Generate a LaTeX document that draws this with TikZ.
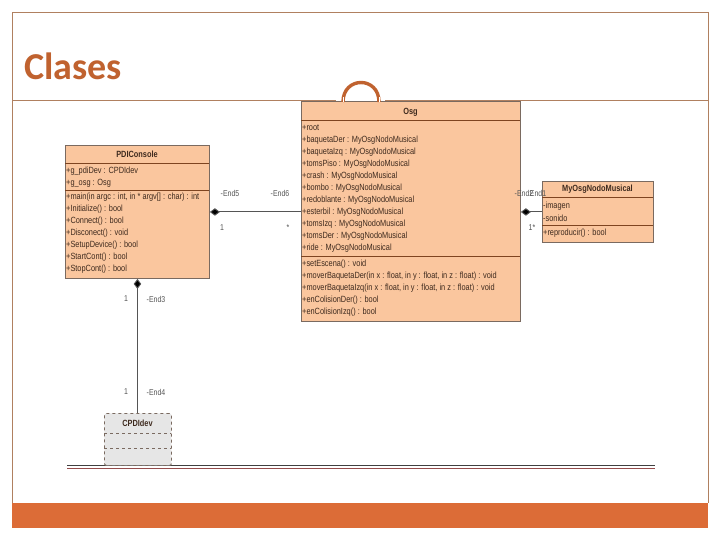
\documentclass[tikz,border=0pt]{standalone}
\usepackage{fontspec}
\usepackage{graphicx}
\setmainfont{Liberation Sans}
\newfontfamily\titlefont{Carlito}
\usetikzlibrary{arrows.meta}
\definecolor{framecol}{HTML}{B08060}
\definecolor{barcol}{HTML}{DC6C37}
\definecolor{titlecol}{HTML}{C0622F}
\definecolor{classfill}{HTML}{FAC69E}
\definecolor{boxborder}{HTML}{7A6A60}
\definecolor{sepcol}{HTML}{7E4420}
\definecolor{txtcol}{HTML}{3E2A1E}
\definecolor{lblcol}{HTML}{555555}
\definecolor{ifill}{HTML}{E6E6E6}
\definecolor{linecol}{HTML}{555555}
\newcommand\narrowtxt[1]{\scalebox{0.82}[1]{#1}}
\tikzset{
  classbox/.style={draw=boxborder, fill=classfill, line width=0.9pt, anchor=north west, inner sep=0pt},
  ifacebox/.style={draw=boxborder, fill=ifill, dashed, line width=0.9pt, anchor=north west, inner sep=0pt, rounded corners=2pt},
  sepline/.style={draw=sepcol, line width=1pt},
  dsepline/.style={draw=boxborder, dashed, line width=0.9pt},
  rowtxt/.style={anchor=west, inner sep=0pt, text=txtcol, font=\fontsize{9}{10}\selectfont},
  headtxt/.style={anchor=center, inner sep=0pt, text=txtcol, font=\fontsize{9}{10}\selectfont\bfseries},
  lbl/.style={inner sep=0pt, text=lblcol, font=\fontsize{8.5}{10}\selectfont},
  assoc/.style={draw=linecol, line width=0.9pt},
  comp/.style={assoc, {Diamond[length=10pt,width=7.5pt,fill=black]}-}
}
\begin{document}
\begin{tikzpicture}[x=1pt,y=-1pt]
\useasboundingbox (0,0) rectangle (720,540);
\fill[white] (0,0) rectangle (720,540);
% slide frame
\draw[framecol, line width=0.8pt] (12,503) -- (12,12) -- (708,12) -- (708,503);
\fill[barcol] (12,503) rectangle (708,528);
\draw[framecol, line width=0.8pt] (12,100) -- (336,100);
\draw[framecol, line width=0.8pt] (385,100) -- (708,100);
\node[anchor=base west, inner sep=0pt, text=titlecol, font=\titlefont\bfseries\fontsize{38}{42}\selectfont] (title) at (24,80) {Clases};
% bottom double line
\draw[draw=black!75, line width=0.9pt] (67,465.5) -- (655,465.5);
\draw[draw=red!40!black!70, line width=0.9pt] (67,468.3) -- (655,468.3);

% Osg class
\node[classbox, minimum width=219pt, minimum height=220pt] (osg) at (301,101) {};
\draw[titlecol, line width=3.4pt] (343,102) .. controls (343,76) and (379,76) .. (379,102);
\draw[white, line width=0.8pt] (343,97) -- (343,102) (379,97) -- (379,102);
\node[headtxt] (osgname) at (410.5,112) {\narrowtxt{Osg}};
\draw[sepline] (301,121) -- (520,121);
\foreach \t [count=\i] in {+root,
  +baquetaDer : MyOsgNodoMusical,
  +baquetaIzq : MyOsgNodoMusical,
  +tomsPiso : MyOsgNodoMusical,
  +crash : MyOsgNodoMusical,
  +bombo : MyOsgNodoMusical,
  +redoblante : MyOsgNodoMusical,
  +esterbil : MyOsgNodoMusical,
  +tomsIzq : MyOsgNodoMusical,
  +tomsDer : MyOsgNodoMusical,
  +ride : MyOsgNodoMusical}
  \node[rowtxt] (osga\i) at (302,116+12*\i) {\narrowtxt{\t}};
\draw[sepline] (301,256.5) -- (520,256.5);
\foreach \t [count=\i] in {+setEscena() : void,
  {+moverBaquetaDer(in x : float, in y : float, in z : float) : void},
  {+moverBaquetaIzq(in x : float, in y : float, in z : float) : void},
  +enColisionDer() : bool,
  +enColisionIzq() : bool}
  \node[rowtxt] (osgo\i) at (302,252+12*\i) {\narrowtxt{\t}};

% PDIConsole class
\node[classbox, minimum width=144pt, minimum height=133pt] (pdi) at (65,145) {};
\node[headtxt] (pdiname) at (137,154.5) {\narrowtxt{PDIConsole}};
\draw[sepline] (65,164) -- (209,164);
\node[rowtxt] (pdia1) at (66,171) {\narrowtxt{+g\_pdiDev : CPDIdev}};
\node[rowtxt] (pdia2) at (66,183) {\narrowtxt{+g\_osg : Osg}};
\draw[sepline] (65,190.5) -- (209,190.5);
\foreach \t [count=\i] in {{+main(in argc : int, in * argv[] : char) : int},
  +Initialize() : bool,
  +Connect() : bool,
  +Disconect() : void,
  +SetupDevice() : bool,
  +StartCont() : bool,
  +StopCont() : bool}
  \node[rowtxt] (pdio\i) at (66,185+12*\i) {\narrowtxt{\t}};

% MyOsgNodoMusical class
\node[classbox, minimum width=111pt, minimum height=61pt] (nodo) at (542,181) {};
\node[headtxt] (nodoname) at (597.5,189.5) {\narrowtxt{MyOsgNodoMusical}};
\draw[sepline] (542,198) -- (653,198);
\node[rowtxt] (nodoa1) at (543,206) {\narrowtxt{-imagen}};
\node[rowtxt] (nodoa2) at (543,218) {\narrowtxt{-sonido}};
\draw[sepline] (542,225.5) -- (653,225.5);
\node[rowtxt] (nodoo1) at (543,233) {\narrowtxt{+reproducir() : bool}};

% CPDIdev
\node[ifacebox, minimum width=67pt, minimum height=52pt] (dev) at (104,413) {};
\node[headtxt] (devname) at (137.5,423) {\narrowtxt{CPDIdev}};
\draw[dsepline] (104,433) -- (171,433);
\draw[dsepline] (104,448) -- (171,448);

% connectors
\draw[comp] (pdi.east) -- (osg.west |- pdi.east);
\draw[comp] (osg.east |- nodo.west) -- (nodo.west);
\draw[comp] (pdi.south) -- (dev.north -| pdi.south);

% connector labels
\node[lbl] (l5) at (230,193) {\narrowtxt{-End5}};
\node[lbl] (l6) at (280,193) {\narrowtxt{-End6}};
\node[lbl] (l1a) at (222,228) {\narrowtxt{1}};
\node[lbl] (lst) at (288,228) {\narrowtxt{*}};
\node[lbl] (l2) at (524,193) {\narrowtxt{-End2}};
\node[lbl] (l1) at (538,193) {\narrowtxt{End1}};
\node[lbl] (l1s) at (532,228) {\narrowtxt{1*}};
\node[lbl] (l3n) at (126,299) {\narrowtxt{1}};
\node[lbl] (l3) at (156,299) {\narrowtxt{-End3}};
\node[lbl] (l4n) at (126,392) {\narrowtxt{1}};
\node[lbl] (l4) at (156,392) {\narrowtxt{-End4}};
\end{tikzpicture}
\end{document}
